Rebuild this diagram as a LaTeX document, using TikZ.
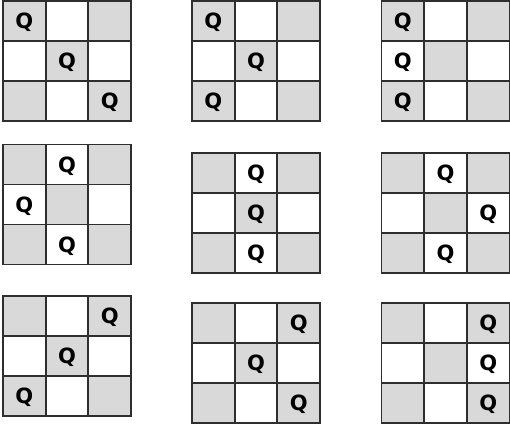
\documentclass[tikz,border=0pt]{standalone}
\usepackage{fontspec}
\newfontfamily\queenfont{DejaVu Sans}
\definecolor{cellgray}{HTML}{D9D9D9}
\definecolor{gridline}{HTML}{2E2E2E}
\tikzset{
  cellfill/.style={fill=cellgray},
  gridstyle/.style={draw=gridline, line width=1.7pt, line cap=rect},
  queen/.style={font=\queenfont\bfseries\fontsize{21}{21}\selectfont, inner sep=0pt, text depth=0pt, text=black}
}
% #1 name, #2 left x (pt), #3 top y (pt), #4 queens as col/row list
\newcommand\qboard[4]{%
  \begin{scope}[shift={(#2pt,-#3pt)}, x=42.67pt, y=-40pt]
    \foreach \c/\r in {0/0,2/0,1/1,0/2,2/2}
      \fill[cellfill] (\c,\r) rectangle ++(1,1);
    \foreach \k in {0,1,2,3} {
      \draw[gridstyle] (\k,0) -- (\k,3);
      \draw[gridstyle] (0,\k) -- (3,\k);
    }
    \foreach \c/\r [count=\i] in {#4}
      \node[queen] (#1q\i) at (\c+0.5,\r+0.5) {Q};
  \end{scope}}
\begin{document}
\begin{tikzpicture}
  \useasboundingbox (0pt,0pt) rectangle (510pt,-427pt);
  \fill[white] (0pt,0pt) rectangle (510pt,-427pt);
  % row 1
  \qboard{b1}{3}{1}{0/0,1/1,2/2}
  \qboard{b2}{192}{1}{0/0,1/1,0/2}
  \qboard{b3}{381.5}{1}{0/0,0/1,0/2}
  % row 2
  \qboard{b4}{3}{144.5}{1/0,0/1,1/2}
  \qboard{b5}{192}{153}{1/0,1/1,1/2}
  \qboard{b6}{381.5}{153}{1/0,2/1,1/2}
  % row 3
  \qboard{b7}{3}{296}{2/0,1/1,0/2}
  \qboard{b8}{192}{303}{2/0,1/1,2/2}
  \qboard{b9}{381.5}{303}{2/0,2/1,2/2}
\end{tikzpicture}
\end{document}
